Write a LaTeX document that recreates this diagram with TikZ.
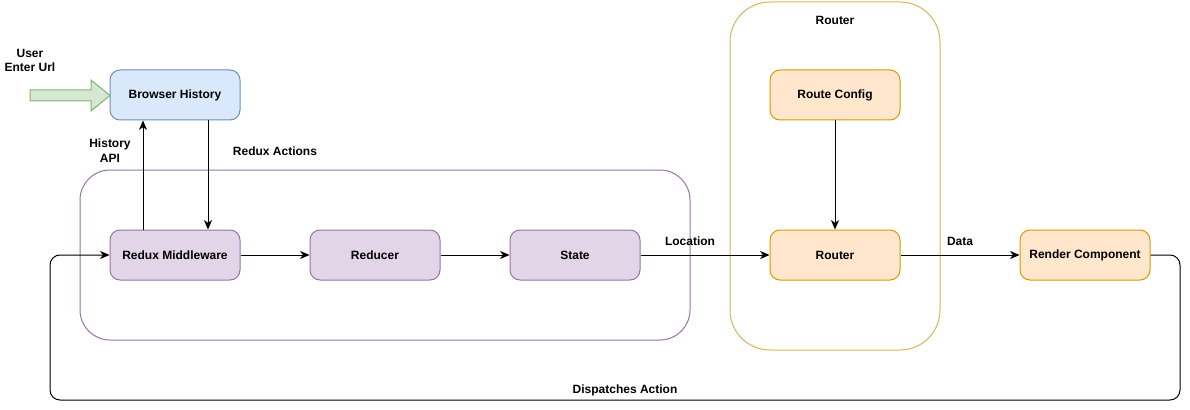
\documentclass[tikz,border=0pt]{standalone}
\usepackage{fontspec}
\setmainfont{Liberation Sans}
\usetikzlibrary{arrows.meta}
\definecolor{bluefill}{HTML}{DAE8FC}
\definecolor{bluestroke}{HTML}{6C8EBF}
\definecolor{purplefill}{HTML}{E1D5E7}
\definecolor{purplestroke}{HTML}{9673A6}
\definecolor{orangefill}{HTML}{FFE6CC}
\definecolor{orangestroke}{HTML}{D79B00}
\definecolor{yellowstroke}{HTML}{D6B656}
\definecolor{greenfill}{HTML}{D5E8D4}
\definecolor{greenstroke}{HTML}{82B366}
\tikzset{
  box/.style={draw, rounded corners=7.5pt, minimum width=97.5pt, minimum height=37.5pt, inner sep=0pt, font=\bfseries\fontsize{9}{11}\selectfont, line width=0.75pt},
  bluebox/.style={box, fill=bluefill, draw=bluestroke},
  purplebox/.style={box, fill=purplefill, draw=purplestroke},
  orangebox/.style={box, fill=orangefill, draw=orangestroke},
  lbl/.style={font=\bfseries\fontsize{9}{11}\selectfont, align=center, inner sep=0pt},
  conn/.style={line width=0.75pt, -{Stealth[length=7pt,width=6pt,inset=2pt]}},
}
\begin{document}
\begin{tikzpicture}[x=0.75pt,y=-0.75pt]
\useasboundingbox (0,0) rectangle (1190,410);
% containers
\draw[purplestroke, line width=0.75pt, rounded corners=22.5pt] (80,170) rectangle (690,340);
\draw[yellowstroke, line width=0.75pt, rounded corners=30pt] (730,2) rectangle (940,350);
\node[lbl] (routertitle) at (835,20) {Router};
% green arrow
\draw[greenstroke, fill=greenfill, line width=0.75pt] (30,90) -- (91,90) -- (91,80) -- (110,95.5) -- (91,111) -- (91,101) -- (30,101) -- cycle;
\node[lbl] (user) at (30,60.5) {User\\Enter Url};
% nodes
\node[bluebox] (bh) at (175,95) {Browser History};
\node[purplebox] (rm) at (175,255) {Redux Middleware};
\node[purplebox] (red) at (375,255) {Reducer};
\node[purplebox] (st) at (575,255) {State};
\node[orangebox] (rc) at (835,95) {Route Config};
\node[orangebox] (rt) at (835,255) {Router};
\node[orangebox] (rend) at (1085,255) {Render Component};
% labels
\node[lbl] (hapi) at (110,150.5) {History\\API};
\node[lbl] (ractions) at (275,151) {Redux Actions};
\node[lbl] (loc) at (690,241) {Location};
\node[lbl] (data) at (960,241) {Data};
\node[lbl] (disp) at (625,390) {Dispatches Action};
% connectors
\draw[conn] (rm.north -| 143,0) -- (bh.south -| 143,0);
\draw[conn] (bh.south -| 208,0) -- (rm.north -| 208,0);
\draw[conn] (rm) -- (red);
\draw[conn] (red) -- (st);
\draw[conn] (st) -- (rt);
\draw[conn] (rc) -- (rt);
\draw[conn] (rt) -- (rend);
\coordinate (c1) at (1180,255);
\coordinate (c2) at (1180,400);
\coordinate (c3) at (50,400);
\coordinate (c4) at (50,255);
\draw[conn, rounded corners=7.5pt] (rend.east) -- (c1) -- (c2) -- (c3) -- (c4) -- (rm.west);
\end{tikzpicture}
\end{document}
